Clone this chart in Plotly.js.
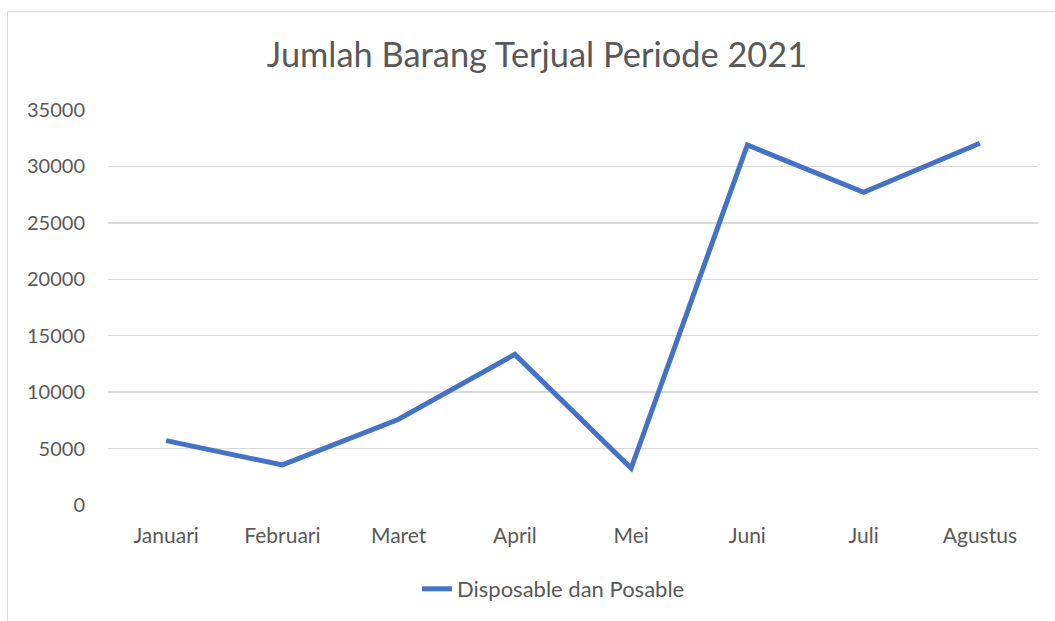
<!DOCTYPE html>
<html>
<head>
<meta charset="utf-8">
<script src="https://cdn.plot.ly/plotly-3.0.1.min.js"></script>
<style>html,body{margin:0;padding:0;background:#fff;}#chart{width:1055px;height:621px;}</style>
</head>
<body>
<div id="chart"></div>
<script>
const months = ["Januari", "Februari", "Maret", "April", "Mei", "Juni", "Juli", "Agustus"];
const seriesName = "Disposable dan Posable";
const sales = [5700, 3550, 7600, 13350, 3250, 31900, 27700, 32050];
const yTicks = [0, 5000, 10000, 15000, 20000, 25000, 30000, 35000];

const FONT = "Lato, 'Open Sans', sans-serif";
const TXT = "#595959";
const L = 108, R = 17, T = 110, B = 115, W = 1055, H = 621;
const pw = W - L - R, ph = H - T - B;
function px(x) { return (x - L) / pw; }
function py(y) { return (H - B - y) / ph; }

Plotly.newPlot("chart", [{
  type: "scatter",
  mode: "lines",
  x: months,
  y: sales,
  name: seriesName,
  line: { color: "#4472C4", width: 5, shape: "linear" },
  showlegend: true
}], {
  width: W, height: H,
  margin: { l: L, r: R, t: T, b: B },
  paper_bgcolor: "#fff", plot_bgcolor: "#fff",
  font: { family: FONT, color: TXT },
  title: { text: "Jumlah Barang Terjual Periode 2021", font: { family: FONT, size: 34.4, color: TXT }, x: 537 / W, xanchor: "center", y: 1 - 55 / H, yanchor: "middle" },
  xaxis: { type: "category", range: [-0.5, 7.5], showgrid: false, zeroline: false, showline: false, ticks: "", tickfont: { size: 21, color: TXT }, ticklabelstandoff: 16, fixedrange: true },
  yaxis: { range: [0, 35000], tickvals: yTicks, ticktext: yTicks.map(String), showgrid: true, gridcolor: "#d9d9d9", gridwidth: 1.3, zeroline: false, showline: false, ticks: "", tickfont: { size: 20, color: TXT }, ticklabelstandoff: 22, fixedrange: true },
  showlegend: true,
  legend: { orientation: "h", x: px(417), xanchor: "left", y: py(589), yanchor: "middle", font: { size: 22, color: TXT } },
  shapes: [{ type: "rect", xref: "paper", yref: "paper", x0: px(7.5), x1: px(1100), y0: py(11.5), y1: py(700), line: { color: "#d9d9d9", width: 1 }, fillcolor: "rgba(0,0,0,0)", layer: "below" }]
}, { displayModeBar: false, staticPlot: true });
</script>
</body>
</html>
